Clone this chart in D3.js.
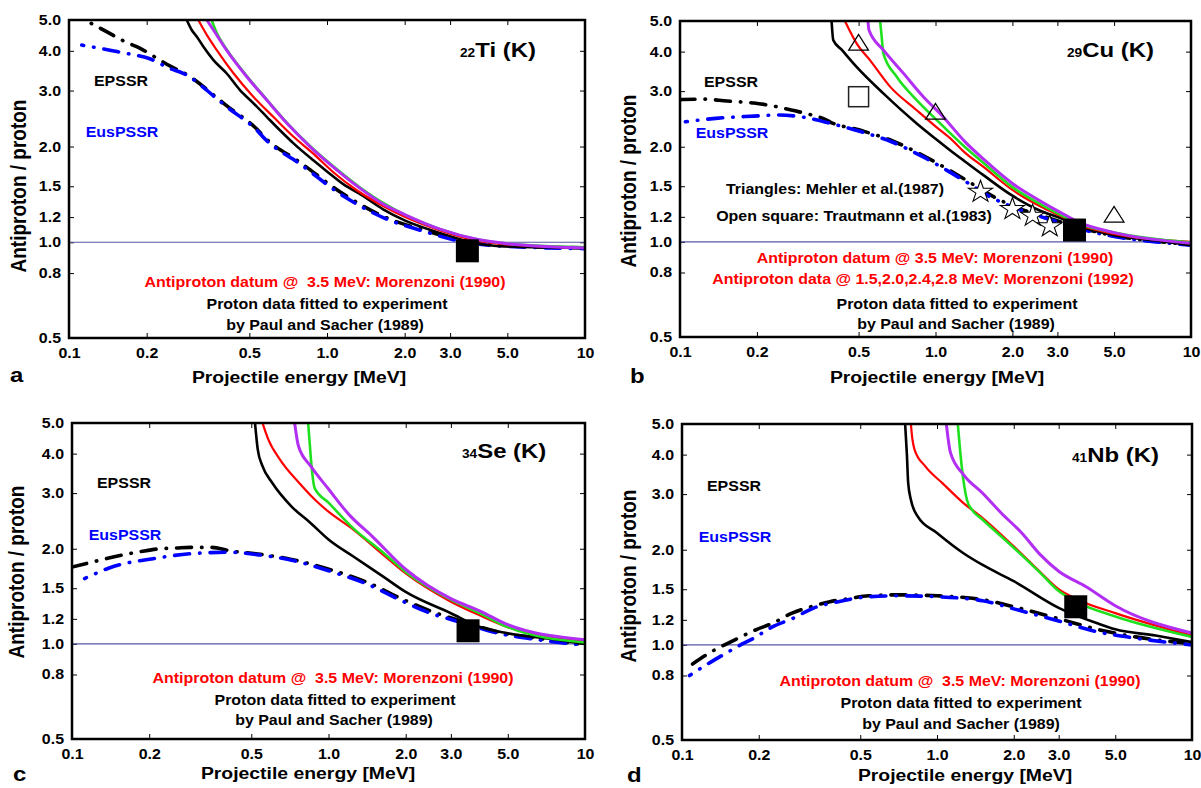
<!DOCTYPE html>
<html>
<head>
<meta charset="utf-8">
<script src="https://cdn.jsdelivr.net/npm/d3@7"></script>
<style>
html, body { margin: 0; padding: 0; background: #fff; }
svg { display: block; }
</style>
</head>
<body>
<svg width="1201" height="788"></svg>
<script>
// ticks
const energyTicks = [0.1, 0.2, 0.5, 1, 2, 3, 5, 10];
const ratioTicks = [0.5, 0.8, 1, 1.2, 1.5, 2, 3, 4, 5];

// 22Ti (K)  -- [energy MeV, antiproton/proton]
const tiBlack = [[0.286,5.0],[0.299,4.65],[0.313,4.43],[0.332,4.12],[0.363,3.74],[0.408,3.40],[0.46,3.01],[0.518,2.74],[0.584,2.48],[0.657,2.25],[0.74,2.05],[0.885,1.81],[1.0,1.67],[1.16,1.52],[1.34,1.42],[1.65,1.27],[2.01,1.17],[2.74,1.07],[3.85,0.99],[5.0,0.97],[10,0.96]];
const tiRed = [[0.317,5.0],[0.342,4.49],[0.374,4.02],[0.434,3.40],[0.518,2.87],[0.619,2.48],[0.74,2.15],[0.885,1.90],[1.058,1.66],[1.30,1.46],[1.65,1.30],[2.01,1.20],[2.74,1.09],[3.85,1.01],[5.0,0.985],[10,0.96]];
const tiGreen = [[0.357,5.0],[0.374,4.55],[0.408,4.05],[0.488,3.34],[0.584,2.81],[0.698,2.38],[0.859,2.01],[1.09,1.70],[1.34,1.49],[1.65,1.33],[2.01,1.22],[2.74,1.10],[3.85,1.02],[5.0,0.99],[10,0.965]];
const tiMagenta = [[0.342,5.0],[0.363,4.65],[0.408,4.02],[0.488,3.32],[0.584,2.80],[0.698,2.37],[0.859,2.00],[1.09,1.69],[1.34,1.48],[1.65,1.32],[2.01,1.22],[2.74,1.10],[3.85,1.02],[5.0,0.99],[10,0.96]];
const tiEpssr = [[0.1,5.3],[0.112,5.06],[0.148,4.48],[0.165,4.27],[0.188,4.08],[0.218,3.80],[0.25,3.56],[0.277,3.42],[0.374,2.85],[0.408,2.69],[0.532,2.28],[0.583,2.11],[0.773,1.80],[1.17,1.41],[1.76,1.18],[2.31,1.10],[3.24,1.02],[4.55,0.98],[10,0.96]];
const tiEus = [[0.112,4.17],[0.128,4.09],[0.155,3.97],[0.18,3.88],[0.203,3.79],[0.246,3.52],[0.277,3.40],[0.374,2.83],[0.408,2.67],[0.532,2.26],[0.583,2.09],[0.773,1.78],[1.17,1.39],[1.76,1.17],[2.31,1.09],[3.24,1.01],[4.55,0.975],[10,0.955]];
const tiDatum = [[3.5, 0.94]];

// 29Cu (K)
const cuBlack = [[0.392,5.0],[0.398,4.35],[0.43,4.05],[0.491,3.58],[0.625,2.95],[0.844,2.37],[1.0,2.12],[1.14,1.95],[1.30,1.80],[1.55,1.62],[2.0,1.40],[2.6,1.25],[3.08,1.19],[3.67,1.12],[5.0,1.05],[7.3,1.01],[10,0.976]];
const cuRed = [[0.442,5.0],[0.491,4.25],[0.554,3.76],[0.664,3.10],[0.844,2.61],[1.0,2.32],[1.14,2.13],[1.30,1.92],[1.55,1.72],[2.0,1.46],[2.6,1.29],[3.08,1.21],[3.67,1.13],[5.0,1.06],[10,1.0]];
const cuGreen = [[0.607,5.0],[0.615,4.5],[0.625,3.95],[0.705,3.33],[0.844,2.81],[1.0,2.45],[1.30,2.0],[1.55,1.77],[2.0,1.49],[2.6,1.31],[3.08,1.22],[3.67,1.14],[5.0,1.07],[10,0.995]];
const cuMagenta = [[0.544,5.0],[0.549,4.68],[0.625,4.05],[0.748,3.42],[0.896,2.88],[1.07,2.49],[1.30,2.08],[1.55,1.82],[2.0,1.53],[2.6,1.34],[3.08,1.24],[3.67,1.15],[5.0,1.07],[10,0.99]];
const cuEpssr = [[0.1,2.82],[0.124,2.83],[0.153,2.79],[0.195,2.75],[0.232,2.69],[0.275,2.61],[0.316,2.54],[0.362,2.46],[0.389,2.39],[0.513,2.25],[0.676,2.09],[0.891,1.88],[1.10,1.71],[1.35,1.55],[1.66,1.40],[2.0,1.30],[2.6,1.21],[3.67,1.11],[5.0,1.045],[7.3,1.005],[10,0.98]];
const cuEus = [[0.105,2.40],[0.138,2.46],[0.195,2.50],[0.240,2.52],[0.305,2.48],[0.389,2.37],[0.513,2.23],[0.676,2.07],[0.891,1.86],[1.10,1.69],[1.35,1.53],[1.66,1.38],[2.0,1.29],[2.6,1.20],[3.67,1.10],[5.0,1.04],[7.3,1.0],[10,0.976]];
const cuDatum = [[3.5, 1.09]];
const cuStars = [[1.5,1.44],[2.0,1.27],[2.4,1.21],[2.8,1.12]];      // Morenzoni (1992)
const cuTriangles = [[0.5,4.2],[1.0,2.54],[5.0,1.20]];             // Mehler et al. (1987)
const cuOpenSquare = [[0.5,2.88]];                                 // Trautmann et al. (1983)

// 34Se (K)
const seBlack = [[0.517,5.0],[0.530,4.12],[0.553,3.65],[0.604,3.23],[0.718,2.72],[0.853,2.41],[1.0,2.14],[1.25,1.89],[1.64,1.63],[2.0,1.46],[3.0,1.25],[3.9,1.13],[5.0,1.08],[7.8,1.03],[10,1.0]];
const seRed = [[0.553,5.0],[0.583,4.43],[0.647,3.83],[0.769,3.23],[0.914,2.79],[1.0,2.62],[1.25,2.30],[1.64,1.91],[2.0,1.67],[3.0,1.36],[3.9,1.23],[5.0,1.13],[10,1.02]];
const seGreen = [[0.833,5.0],[0.845,4.3],[0.859,3.65],[0.883,3.11],[1.0,2.80],[1.25,2.32],[1.64,1.94],[2.0,1.69],[3.0,1.38],[3.9,1.25],[5.0,1.13],[10,1.01]];
const seMagenta = [[0.738,5.0],[0.764,4.22],[0.853,3.65],[1.0,3.09],[1.205,2.56],[1.48,2.19],[2.02,1.71],[3.0,1.39],[3.9,1.27],[5.0,1.15],[10,1.03]];
const seEpssr = [[0.1,1.75],[0.115,1.80],[0.157,1.91],[0.186,1.96],[0.22,2.0],[0.254,2.01],[0.29,2.02],[0.35,2.02],[0.413,1.97],[0.544,1.92],[0.718,1.85],[1.01,1.72],[1.43,1.56],[1.96,1.38],[2.5,1.27],[3.3,1.18],[4.6,1.09],[6.6,1.04],[10,0.995]];
const seEus = [[0.112,1.61],[0.146,1.76],[0.207,1.86],[0.292,1.93],[0.413,1.95],[0.544,1.91],[0.718,1.84],[1.01,1.70],[1.43,1.54],[1.96,1.36],[2.5,1.25],[3.3,1.17],[4.6,1.08],[6.6,1.03],[10,0.99]];
const seDatum = [[3.5, 1.10]];

// 41Nb (K)
const nbBlack = [[0.750,5.0],[0.762,4.0],[0.771,3.25],[0.790,2.88],[0.840,2.55],[1.0,2.26],[1.27,1.95],[1.51,1.79],[2.0,1.59],[3.0,1.31],[4.25,1.17],[5.0,1.12],[7.2,1.07],[10,1.02]];
const nbRed = [[0.790,5.0],[0.800,4.5],[0.817,4.14],[0.900,3.67],[1.05,3.25],[1.27,2.81],[1.51,2.52],[2.0,2.05],[2.54,1.70],[3.0,1.50],[3.57,1.39],[5.0,1.26],[10,1.07]];
const nbGreen = [[1.207,5.0],[1.25,3.67],[1.31,2.88],[1.37,2.68],[1.51,2.49],[2.0,2.03],[2.54,1.69],[3.0,1.48],[3.57,1.36],[5.0,1.23],[10,1.06]];
const nbMagenta = [[1.088,5.0],[1.13,4.05],[1.27,3.46],[1.51,3.02],[1.79,2.61],[2.15,2.26],[2.54,1.93],[3.0,1.71],[3.83,1.53],[5.0,1.33],[10,1.09]];
const nbEpssr = [[0.110,0.87],[0.130,0.95],[0.147,1.0],[0.166,1.05],[0.197,1.12],[0.226,1.17],[0.27,1.26],[0.32,1.32],[0.38,1.37],[0.45,1.40],[0.54,1.43],[0.71,1.44],[1.0,1.43],[1.31,1.41],[1.51,1.39],[2.0,1.32],[3.0,1.21],[4.25,1.12],[6.0,1.06],[10,1.01]];
const nbEus = [[0.107,0.80],[0.126,0.87],[0.145,0.93],[0.166,0.99],[0.191,1.05],[0.226,1.14],[0.27,1.21],[0.33,1.31],[0.41,1.37],[0.54,1.42],[0.71,1.43],[1.0,1.42],[1.31,1.40],[1.51,1.38],[2.0,1.30],[3.0,1.19],[4.25,1.10],[6.0,1.05],[10,1.0]];
const nbDatum = [[3.5, 1.32]];

// the original figure is a bit wider than tall, text is stretched the same way
const SX = 1.14;
const FONT = '"Liberation Sans", Arial, Helvetica, sans-serif';

const red = "#ff0000", blue = "#0000ff";
const morenzoni90 = "Antiproton datum @  3.5 MeV: Morenzoni (1990)";

const panels = [
  {
    id: "a", box: [69, 585, 20, 338],
    sub: "22", elem: "Ti (K)", titleAt: [460, 57],
    black: tiBlack, red: tiRed, green: tiGreen, magenta: tiMagenta, epssr: tiEpssr, eus: tiEus, datum: tiDatum,
    epssrAt: [121, 86], eusAt: [122, 137],
    notes: [[morenzoni90, red, 325, 287], ["Proton data fitted to experiment", "#000", 327, 309], ["by Paul and Sacher (1989)", "#000", 325, 330]],
    xTitleAt: [299, 383], yTitleAt: [26, 186], letterAt: [10, 382]
  },
  {
    id: "b", box: [680, 1191, 21, 337],
    sub: "29", elem: "Cu (K)", titleAt: [1067, 57],
    black: cuBlack, red: cuRed, green: cuGreen, magenta: cuMagenta, epssr: cuEpssr, eus: cuEus, datum: cuDatum,
    stars: cuStars, triangles: cuTriangles, openSquare: cuOpenSquare,
    epssrAt: [731, 87], eusAt: [732, 138],
    notes: [["Triangles: Mehler et al.(1987)", "#000", 835, 194], ["Open square: Trautmann et al.(1983)", "#000", 854, 221],
            ["Antiproton datum @ 3.5 MeV: Morenzoni (1990)", red, 935, 263],
            ["Antiproton data @ 1.5,2.0,2.4,2.8 MeV: Morenzoni (1992)", red, 923, 284],
            ["Proton data fitted to experiment", "#000", 957, 309], ["by Paul and Sacher (1989)", "#000", 956, 329]],
    xTitleAt: [937, 383], yTitleAt: [636, 181], letterAt: [630, 383]
  },
  {
    id: "c", box: [72, 585, 423, 739],
    sub: "34", elem: "Se (K)", titleAt: [462, 458],
    black: seBlack, red: seRed, green: seGreen, magenta: seMagenta, epssr: seEpssr, eus: seEus, datum: seDatum,
    epssrAt: [124, 488], eusAt: [125, 540],
    notes: [[morenzoni90, red, 333, 683], ["Proton data fitted to experiment", "#000", 335, 705], ["by Paul and Sacher (1989)", "#000", 334, 725]],
    xTitleAt: [308, 779], yTitleAt: [24, 572], letterAt: [13, 781]
  },
  {
    id: "d", box: [682, 1192, 424, 740],
    sub: "41", elem: "Nb (K)", titleAt: [1072, 462],
    black: nbBlack, red: nbRed, green: nbGreen, magenta: nbMagenta, epssr: nbEpssr, eus: nbEus, datum: nbDatum,
    epssrAt: [734, 491], eusAt: [735, 542],
    notes: [[morenzoni90, red, 960, 686], ["Proton data fitted to experiment", "#000", 961, 708], ["by Paul and Sacher (1989)", "#000", 961, 729]],
    xTitleAt: [965, 781], yTitleAt: [636, 576], letterAt: [627, 782]
  }
];

const svg = d3.select("svg");

function label(sel, x, y, txt, size, color, anchor) {
  return sel.append("text")
    .attr("transform", `translate(${x},${y}) scale(${SX},1)`)
    .attr("text-anchor", anchor || "middle")
    .attr("font-family", FONT)
    .attr("font-weight", "bold")
    .attr("font-size", size)
    .attr("fill", color || "#000")
    .style("white-space", "pre")
    .text(txt);
}

function styleAxis(sel) {
  sel.select(".domain").remove();
  sel.selectAll(".tick line").attr("stroke", "#000").attr("stroke-width", 1);
  sel.selectAll(".tick text")
    .attr("font-family", FONT)
    .attr("font-weight", "bold")
    .attr("font-size", 14)
    .attr("fill", "#000")
    .attr("transform", `scale(${SX},1)`);
}

const fmtE = d => d >= 10 ? "10" : d3.format(".1f")(d);
const fmtR = d3.format(".1f");

panels.forEach(p => {
  const [x0, x1, y0, y1] = p.box;
  const x = d3.scaleLog().domain([0.1, 10]).range([x0, x1]);
  const y = d3.scaleLog().domain([0.5, 5]).range([y1, y0]);
  const g = svg.append("g").attr("class", "panel-" + p.id);

  const clipId = "clip-" + p.id;
  g.append("clipPath").attr("id", clipId)
    .append("rect").attr("x", x0).attr("y", y0).attr("width", x1 - x0).attr("height", y1 - y0);

  // axes, ticks pointing inward on all four sides
  g.append("g").attr("transform", `translate(0,${y1})`)
    .call(d3.axisBottom(x).tickValues(energyTicks).tickFormat(fmtE).tickSize(-5).tickPadding(10))
    .call(styleAxis);
  g.append("g").attr("transform", `translate(0,${y0})`)
    .call(d3.axisTop(x).tickValues(energyTicks).tickFormat("").tickSize(-5))
    .call(styleAxis);
  g.append("g").attr("transform", `translate(${x0},0)`)
    .call(d3.axisLeft(y).tickValues(ratioTicks).tickFormat(fmtR).tickSize(-5).tickPadding(7))
    .call(styleAxis);
  g.append("g").attr("transform", `translate(${x1},0)`)
    .call(d3.axisRight(y).tickValues(ratioTicks).tickFormat("").tickSize(-5))
    .call(styleAxis);

  const plot = g.append("g").attr("clip-path", `url(#${clipId})`);

  plot.append("line")
    .attr("x1", x0).attr("x2", x1)
    .attr("y1", y(1)).attr("y2", y(1))
    .attr("stroke", "#5656a6").attr("stroke-width", 1.2);

  const line = d3.line()
    .x(d => x(d[0]))
    .y(d => y(d[1]))
    .curve(d3.curveMonotoneX);

  // EPSSR / EusPSSR dash-dot curves
  plot.append("path").datum(p.epssr)
    .attr("d", line).attr("fill", "none")
    .attr("stroke", "#000").attr("stroke-width", 3.6)
    .attr("stroke-linecap", "round")
    .attr("stroke-dasharray", "15,10,0.5,10");
  plot.append("path").datum(p.eus)
    .attr("d", line).attr("fill", "none")
    .attr("stroke", blue).attr("stroke-width", 3.6)
    .attr("stroke-linecap", "round")
    .attr("stroke-dasharray", "15,10,0.5,10")
    .attr("stroke-dashoffset", 13);

  const solids = [
    [p.black, "#000", 2.6],
    [p.red, red, 2.2],
    [p.green, "#1fe01f", 2.6],
    [p.magenta, "#b22ef2", 3]
  ];
  solids.forEach(([data, color, w]) => {
    plot.append("path").datum(data)
      .attr("d", line).attr("fill", "none")
      .attr("stroke", color).attr("stroke-width", w)
      .attr("stroke-linejoin", "round");
  });

  if (p.openSquare) {
    plot.selectAll(".osq").data(p.openSquare).enter().append("rect")
      .attr("x", d => x(d[0]) - 10).attr("y", d => y(d[1]) - 10)
      .attr("width", 20).attr("height", 20)
      .attr("fill", "none").attr("stroke", "#222").attr("stroke-width", 1.5);
  }
  if (p.triangles) {
    plot.selectAll(".tri").data(p.triangles).enter().append("path")
      .attr("transform", d => `translate(${x(d[0])},${y(d[1])}) scale(1.1,1)`)
      .attr("d", d3.symbol(d3.symbolTriangle, 140))
      .attr("fill", "none").attr("stroke", "#000").attr("stroke-width", 1.2);
  }
  if (p.stars) {
    plot.selectAll(".star").data(p.stars).enter().append("path")
      .attr("transform", d => `translate(${x(d[0])},${y(d[1])}) scale(1.1,1)`)
      .attr("d", d3.symbol(d3.symbolStar, 150))
      .attr("fill", "#fff").attr("stroke", "#000").attr("stroke-width", 1);
  }

  // Morenzoni (1990) datum at 3.5 MeV
  plot.selectAll(".datum").data(p.datum).enter().append("rect")
    .attr("x", d => x(d[0]) - 11.5).attr("y", d => y(d[1]) - 11.5)
    .attr("width", 23).attr("height", 23)
    .attr("fill", "#000");

  // frame
  g.append("rect")
    .attr("x", x0).attr("y", y0)
    .attr("width", x1 - x0).attr("height", y1 - y0)
    .attr("fill", "none").attr("stroke", "#000").attr("stroke-width", 2.5);

  // panel title, e.g. 22Ti (K)
  const t = g.append("text")
    .attr("transform", `translate(${p.titleAt[0]},${p.titleAt[1]}) scale(${SX},1)`)
    .attr("font-family", FONT).attr("font-weight", "bold").attr("fill", "#000");
  t.append("tspan").attr("font-size", 12).text(p.sub);
  t.append("tspan").attr("font-size", 21).text(p.elem);

  label(g, p.epssrAt[0], p.epssrAt[1], "EPSSR", 14, "#000");
  label(g, p.eusAt[0], p.eusAt[1], "EusPSSR", 14, blue);

  p.notes.forEach(([txt, color, nx, ny]) => label(g, nx, ny, txt, 14, color));

  label(g, p.xTitleAt[0], p.xTitleAt[1], "Projectile energy [MeV]", 17, "#000");
  g.append("text")
    .attr("transform", `translate(${p.yTitleAt[0]},${p.yTitleAt[1]}) scale(${SX},1) rotate(-90)`)
    .attr("text-anchor", "middle")
    .attr("font-family", FONT).attr("font-weight", "bold")
    .attr("font-size", 19).attr("fill", "#000")
    .text("Antiproton / proton");
  label(g, p.letterAt[0], p.letterAt[1], p.id, 21, "#000", "start");
});
</script>
</body>
</html>
